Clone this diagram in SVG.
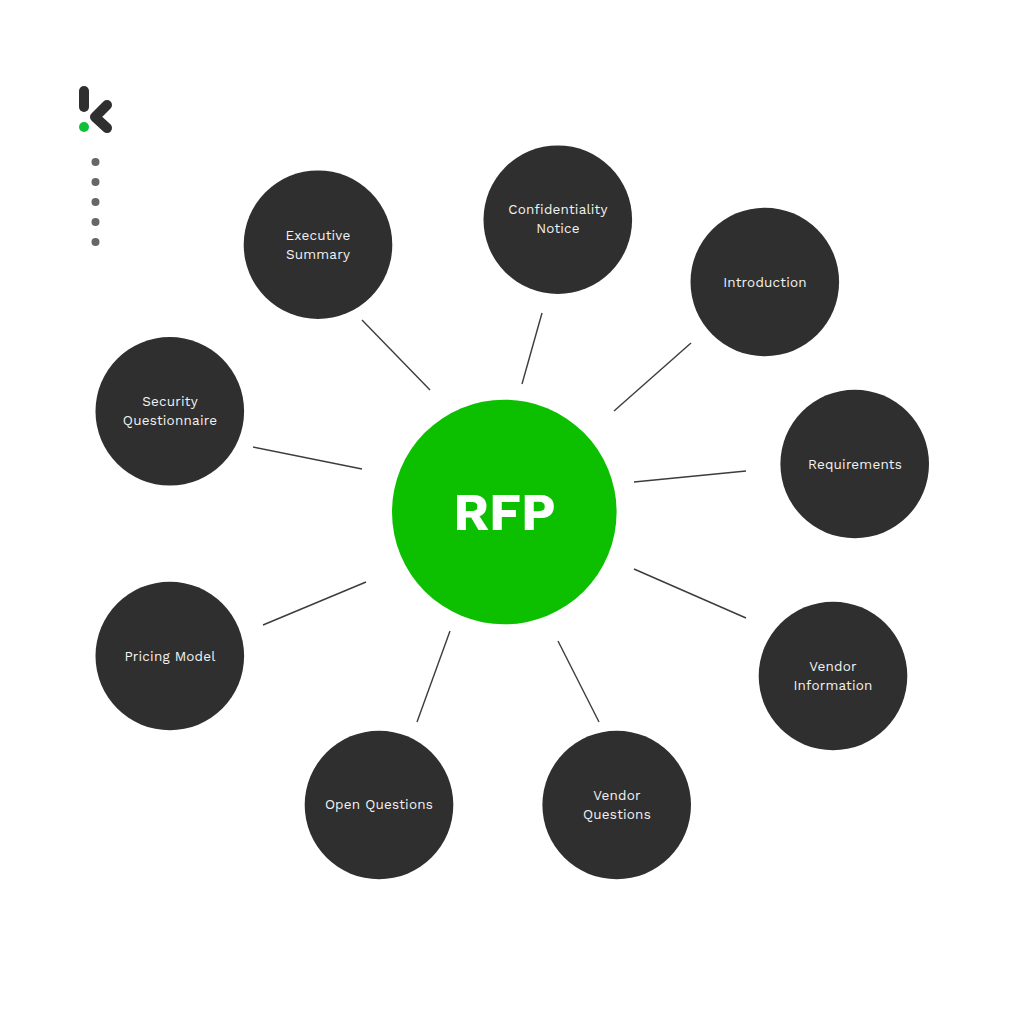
<svg xmlns="http://www.w3.org/2000/svg" width="1024" height="1024" viewBox="0 0 1024 1024">
<style>
.n{fill:#2f2f2f}
.t{font-family:"Work Sans","Inter","Liberation Sans",sans-serif;font-size:13.5px;font-weight:450;fill:#f2f2f2;text-anchor:middle;letter-spacing:.2px}
.c line{stroke:#3c3c3c;stroke-width:1.4}
.d{fill:#666}
</style>
<rect width="1024" height="1024" fill="#fff"/>
<g id="logo">
<rect x="79" y="86" width="10" height="26" rx="5" fill="#2f2f2f"/>
<circle cx="84" cy="127" r="5" fill="#10c038"/>
<path d="M107 105L95 117L107 128" fill="none" stroke="#2f2f2f" stroke-width="10" stroke-linecap="round" stroke-linejoin="round"/>
<circle class="d" cx="95.500" cy="162" r="4"/><circle class="d" cx="95.500" cy="182" r="4"/><circle class="d" cx="95.500" cy="202" r="4"/><circle class="d" cx="95.500" cy="222" r="4"/><circle class="d" cx="95.500" cy="242" r="4"/>
</g>
<g id="connectors" class="c">
<line x1="362" y1="320" x2="430" y2="390"/>
<line x1="542" y1="313" x2="522" y2="384"/>
<line x1="691" y1="343" x2="614" y2="411"/>
<line x1="746" y1="471" x2="634" y2="482"/>
<line x1="746" y1="618" x2="634" y2="569"/>
<line x1="599" y1="722" x2="558" y2="641"/>
<line x1="417" y1="722" x2="450" y2="631"/>
<line x1="263" y1="625" x2="366" y2="582"/>
<line x1="253" y1="447" x2="362" y2="469"/>
</g>
<g id="center"><circle cx="504.300" cy="512" r="112.300" fill="#0cc000"/><text x="504.500" y="530" font-family="'Work Sans','Inter','Liberation Sans',sans-serif" font-size="52" font-weight="700" fill="#fff" text-anchor="middle">RFP</text></g>
<g id="executive"><circle class="n" cx="318" cy="244.700" r="74.300"/><text class="t" x="318" y="240">Executive</text><text class="t" x="318" y="259">Summary</text></g>
<g id="confidentiality"><circle class="n" cx="557.800" cy="219.700" r="74.300"/><text class="t" x="558" y="214">Confidentiality</text><text class="t" x="558" y="233">Notice</text></g>
<g id="introduction"><circle class="n" cx="764.800" cy="282" r="74.300"/><text class="t" x="765" y="287">Introduction</text></g>
<g id="requirements"><circle class="n" cx="854.700" cy="464" r="74.300"/><text class="t" x="855" y="468.500">Requirements</text></g>
<g id="vendor-info"><circle class="n" cx="833" cy="676" r="74.300"/><text class="t" x="833" y="671">Vendor</text><text class="t" x="833" y="690">Information</text></g>
<g id="vendor-questions"><circle class="n" cx="616.700" cy="805" r="74.300"/><text class="t" x="617" y="800">Vendor</text><text class="t" x="617" y="819">Questions</text></g>
<g id="open-questions"><circle class="n" cx="379" cy="805" r="74.300"/><text class="t" x="379" y="809">Open Questions</text></g>
<g id="pricing"><circle class="n" cx="169.800" cy="656" r="74.300"/><text class="t" x="170" y="660.500">Pricing Model</text></g>
<g id="security"><circle class="n" cx="169.800" cy="411.300" r="74.300"/><text class="t" x="170" y="406">Security</text><text class="t" x="170" y="425">Questionnaire</text></g>
</svg>
